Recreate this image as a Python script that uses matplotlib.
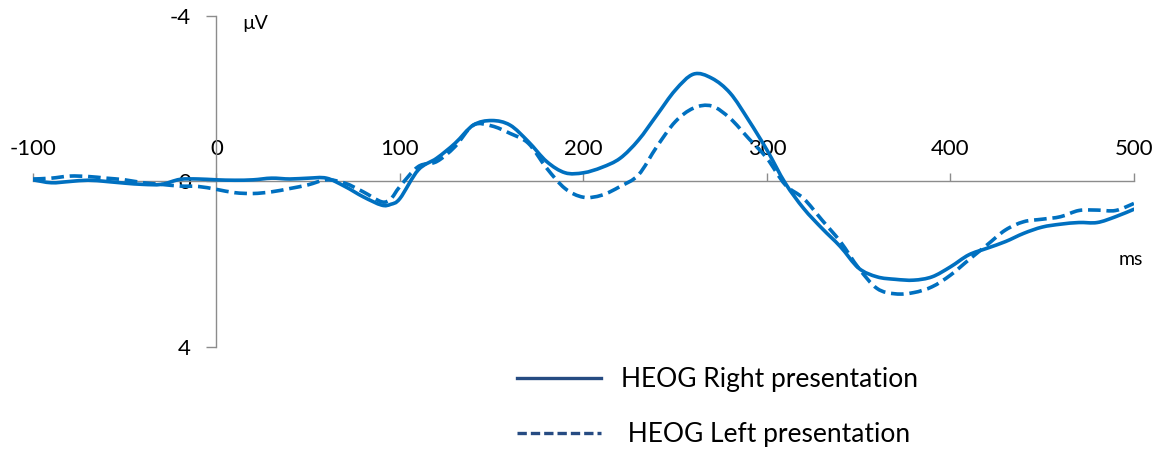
import numpy as np
import matplotlib
matplotlib.use("Agg")
import matplotlib.pyplot as plt
from matplotlib.lines import Line2D
from matplotlib.path import Path
from matplotlib.patches import PathPatch

plt.rcParams["font.family"] = ["Lato", "DejaVu Sans"]
plt.rcParams["axes.unicode_minus"] = False

# ---- grand-average HEOG (µV), sampled every 10 ms, plus 95 ms ----
time_ms = [-100, -90, -80, -70, -60, -50, -40, -30, -20, -10, 0, 10, 20, 30, 40,
           50, 60, 70, 80, 90, 95, 100, 110, 120, 130, 140, 150, 160, 170, 180,
           190, 200, 210, 220, 230, 240, 250, 260, 270, 280, 290, 300, 310, 320,
           330, 340, 350, 360, 370, 380, 390, 400, 410, 420, 430, 440, 450, 460,
           470, 480, 490, 500]
heog_right = [-0.04, 0.03, 0.00, -0.03, 0.00, 0.04, 0.07, 0.07, -0.05, -0.06, -0.04,
              -0.03, -0.04, -0.08, -0.06, -0.08, -0.08, 0.12, 0.37, 0.57, 0.55, 0.41,
              -0.28, -0.56, -0.92, -1.36, -1.47, -1.36, -0.96, -0.48, -0.21, -0.21,
              -0.34, -0.56, -1.00, -1.60, -2.20, -2.59, -2.49, -2.13, -1.48, -0.76,
              0.04, 0.65, 1.13, 1.57, 2.09, 2.30, 2.36, 2.38, 2.30, 2.06, 1.77, 1.61,
              1.45, 1.25, 1.10, 1.03, 0.99, 0.99, 0.85, 0.67]
heog_left = [-0.06, -0.08, -0.13, -0.12, -0.08, -0.04, 0.03, 0.07, 0.11, 0.12, 0.19,
             0.27, 0.29, 0.25, 0.17, 0.08, -0.04, 0.04, 0.25, 0.49, 0.42, 0.12,
             -0.36, -0.48, -0.84, -1.36, -1.34, -1.16, -0.92, -0.32, 0.17, 0.38,
             0.33, 0.12, -0.16, -0.84, -1.44, -1.77, -1.82, -1.52, -1.04, -0.56,
             0.08, 0.41, 0.93, 1.45, 2.09, 2.58, 2.71, 2.68, 2.54, 2.26, 1.89, 1.53,
             1.17, 0.97, 0.91, 0.85, 0.70, 0.69, 0.70, 0.53]

x_ticks = [-100, 0, 100, 200, 300, 400, 500]
y_ticks = [-4, 0, 4]
legend_labels = ["HEOG Right presentation", " HEOG Left presentation"]

LINE = "#0070C0"
NAVY = "#264B82"
AXIS = "#8C8C8C"


def smooth_path(x, y):
    """Catmull-Rom through the samples, as cubic Bezier segments (smoothed line)."""
    p = np.column_stack([x, y]).astype(float)
    p = np.vstack([p[0], p, p[-1]])
    verts, codes = [p[1]], [Path.MOVETO]
    for i in range(1, len(p) - 2):
        p0, p1, p2, p3 = p[i - 1], p[i], p[i + 1], p[i + 2]
        verts += [p1 + (p2 - p0) / 6, p2 - (p3 - p1) / 6, p2]
        codes += [Path.CURVE4] * 3
    return Path(verts, codes)


fig = plt.figure(figsize=(11.65, 4.5), dpi=100)
ax = fig.add_axes([0.0283, 0.2282, 0.945, 0.737])

ax.add_patch(PathPatch(smooth_path(time_ms, heog_right), fc="none", ec=LINE,
                       lw=2.6, capstyle="round", joinstyle="round", zorder=3))
dashed = PathPatch(smooth_path(time_ms, heog_left), fc="none", ec=LINE, lw=2.6,
                   zorder=3)
dashed.set_linestyle((0, (3.5, 1.6)))
ax.add_patch(dashed)

ax.set_xlim(-100, 500)
ax.set_ylim(4, -4)   # negative up, ERP convention

# axes cross at (0 ms, 0 µV); x ticks/labels sit above the time axis
ax.spines["right"].set_visible(False)
ax.spines["bottom"].set_visible(False)
ax.spines["top"].set_position(("data", 0))
ax.spines["left"].set_position(("data", 0))
for s in ("top", "left"):
    ax.spines[s].set_color(AXIS)
    ax.spines[s].set_linewidth(1.0)

ax.xaxis.set_ticks_position("top")
ax.set_xticks(x_ticks)
ax.set_yticks(y_ticks)
ax.tick_params(axis="x", direction="out", length=5.5, width=1.0, color=AXIS,
               pad=11, labelsize=16)
ax.tick_params(axis="y", direction="out", length=7, width=1.0, color=AXIS,
               pad=11.5, labelsize=16)

ax.text(14, -3.8, "µV", fontsize=14, va="center", ha="left")
ax.text(491.5, 1.88, "ms", fontsize=14, va="center", ha="left")

handles = [Line2D([], [], color=NAVY, lw=2.4),
           Line2D([], [], color=NAVY, lw=2.4, dashes=(2.8, 1.2))]
fig.legend(handles, legend_labels, loc="center left",
           bbox_to_anchor=(0.423, 0.095), frameon=False, fontsize=19,
           handlelength=3.2, handletextpad=0.75, labelspacing=1.15)

fig.savefig("out.png", dpi=100, facecolor="white")
